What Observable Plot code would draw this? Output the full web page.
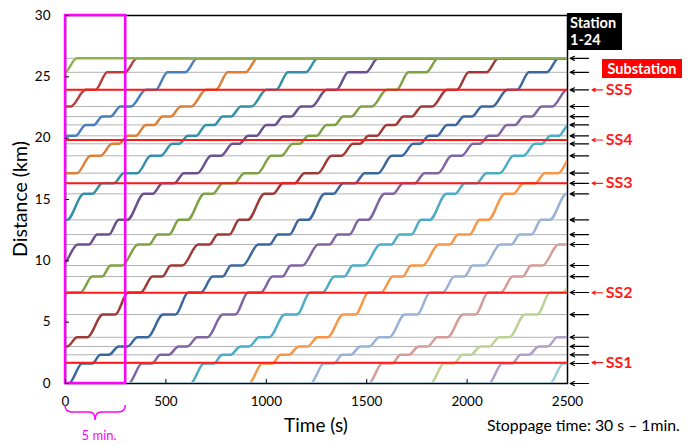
<!DOCTYPE html>
<html><head><meta charset="utf-8">
<script src="https://cdn.jsdelivr.net/npm/d3@7"></script>
<script src="https://cdn.jsdelivr.net/npm/@observablehq/plot@0.6"></script>
<style>
body{margin:0;background:#fff;font-family:Lato,"Open Sans",sans-serif;}
#wrap{position:relative;width:694px;height:445px;overflow:hidden;}
.box{position:absolute;color:#fff;font-weight:bold;font-family:Lato,sans-serif;}
</style></head><body><div id="wrap"></div>
<script>
// Station distances (km), stations 1-24
const stations = [0, 1.63, 2.34, 3.02, 3.77, 5.62, 7.42, 8.72, 9.62, 11.33, 12.14, 13.34, 15.46, 16.32, 17.15, 18.56, 19.54, 20.19, 21.08, 21.76, 22.58, 23.94, 25.37, 26.51];
// Arrival / departure times at each station, relative to departure from station 1 (s)
const arrive = [null, 67, 158, 249, 342, 470, 595, 717, 808, 945, 1042, 1149, 1275, 1367, 1474, 1609, 1716, 1794, 1884, 1967, 2058, 2184, 2292, 2440];
const depart = [0, 117, 200, 293, 392, 532, 659, 767, 866, 1000, 1100, 1192, 1317, 1425, 1541, 1658, 1750, 1834, 1925, 2008, 2110, 2233, 2380, null];
// Departure time of each train from station 1 (s)
const trainStarts = [-2384, -2084, -1784, -1484, -1184, -884, -584, -284, 16, 314, 622, 913, 1220, 1510, 1818, 2108, 2412];
const trainColors = ["#8db14e", "#b9413d", "#4a7ebb", "#dc7f37", "#3290a8", "#6b4f8f", "#7ea143", "#9e3a36", "#3a679f", "#8064a2", "#4bacc6", "#f79646", "#98b2d7", "#d59b97", "#bcd294", "#b0a0c8", "#96cedd"];
// Substations (km)
const substations = [1.7, 7.4, 16.32, 19.85, 23.94];
const substationNames = ["SS1", "SS2", "SS3", "SS4", "SS5"];
const xTicks = [0, 500, 1000, 1500, 2000, 2500];
const yTicks = [0, 5, 10, 15, 20, 25, 30];
const windowSeconds = 300;
const tEnd = 2500;

// Build trajectory table
const order = trainStarts.map((s, i) => i).slice(1).concat([0]);
const rows = [];
for (const i of order) {
  const s = trainStarts[i];
  const pts = [];
  if (s > 0) pts.push([0, 0]);
  pts.push([s + depart[0], stations[0]]);
  for (let j = 1; j < stations.length; j++) {
    pts.push([s + arrive[j], stations[j]]);
    if (depart[j] != null) pts.push([s + depart[j], stations[j]]);
  }
  const last = s + arrive[arrive.length - 1];
  if (last < tEnd) pts.push([tEnd, stations[stations.length - 1]]);
  for (const [t, d] of pts) rows.push({train: i, t, d, color: trainColors[i]});
}

const ssData = substations.map((d, i) => ({d, name: substationNames[i]}));

const plot = Plot.plot({
  width: 694, height: 445,
  marginLeft: 65, marginRight: 127, marginTop: 15, marginBottom: 62,
  x: {domain: [0, tEnd]},
  y: {domain: [0, 30]},
  style: {fontFamily: "Lato, sans-serif", fontSize: "13.5px", color: "#000", background: "white", overflow: "visible"},
  marks: [
    Plot.ruleY(stations, {stroke: "#b2b2b2", strokeWidth: 1}),
    Plot.frame({stroke: "black", strokeWidth: 1.5}),
    Plot.line(rows, {x: "t", y: "d", z: "train", stroke: "color", strokeWidth: 2.5, curve: "monotone-x", clip: true}),
    Plot.ruleY(substations, {stroke: "#ff1a1a", strokeWidth: 2}),
    Plot.rect([{a: 0, b: windowSeconds}], {x1: "a", x2: "b", y1: () => 0, y2: () => 30, fill: "none", stroke: "#ff00ff", strokeWidth: 2.5}),
    Plot.ruleX(xTicks, {y1: 0, y2: 0.33, stroke: "black"}),
    Plot.ruleY(yTicks, {x1: 0, x2: 20, stroke: "black"}),
    Plot.axisX({ticks: xTicks, tickSize: 0, tickPadding: 13, label: null, fontSize: 13.5, tickFormat: d => String(d)}),
    Plot.axisY({ticks: yTicks, tickSize: 0, tickPadding: 15, label: null, fontSize: 13.5, tickFormat: d => String(d)}),
    Plot.arrow(stations, {x1: 2605, x2: 2513, y1: d => d, y2: d => d, stroke: "black", strokeWidth: 1.2, headLength: 6, headAngle: 50}),
    Plot.arrow(ssData, {x1: 2675, x2: 2622, y1: "d", y2: "d", stroke: "#ff1a1a", strokeWidth: 1.2, headLength: 5, headAngle: 50}),
    Plot.text(ssData, {x: 2690, y: "d", text: "name", textAnchor: "start", fill: "#ff1a1a", fontWeight: "bold", fontSize: 16})
  ]
});

const wrap = document.getElementById("wrap");
wrap.appendChild(plot);
const svg = d3.select(plot);
const xs = plot.scale("x"), ys = plot.scale("y");
const x0 = xs.apply(0), x5 = xs.apply(windowSeconds);
const xm = (x0 + x5) / 2;
// brace under the 5-minute window
svg.append("path")
  .attr("d", `M${x0},${405} Q${x0},${412} ${x0 + 7},${412} L${xm - 6},${412} Q${xm},${412} ${xm},${420} Q${xm},${412} ${xm + 6},${412} L${x5 - 7},${412} Q${x5},${412} ${x5},${405}`)
  .attr("fill", "none").attr("stroke", "#ff00ff").attr("stroke-width", 1.5);
svg.append("text").attr("x", xm + 4).attr("y", 437).attr("text-anchor", "middle").attr("dominant-baseline", "middle")
  .attr("fill", "#ff00ff").attr("font-size", 13).text("5 min.");
svg.append("text").attr("transform", `translate(22,${(ys.apply(0) + ys.apply(30)) / 2}) rotate(-90)`)
  .attr("text-anchor", "middle").attr("dominant-baseline", "middle").attr("font-size", 19.5).text("Distance (km)");
svg.append("text").attr("x", (xs.apply(0) + xs.apply(tEnd)) / 2).attr("y", 427)
  .attr("text-anchor", "middle").attr("dominant-baseline", "middle").attr("font-size", 19).text("Time (s)");
svg.append("text").attr("x", 487).attr("y", 427).attr("text-anchor", "start")
  .attr("dominant-baseline", "middle").attr("font-size", 15.8).text("Stoppage time: 30 s \u2013 1min.");

const st = document.createElement("div");
st.className = "box";
st.style.cssText = "left:567px;top:13px;width:49px;height:35px;background:#000;font-size:14.5px;line-height:17px;padding:1px 3px;";
st.innerHTML = "Station<br>1-24";
wrap.appendChild(st);
const sb = document.createElement("div");
sb.className = "box";
sb.style.cssText = "left:602px;top:59px;width:76px;height:19px;background:#ff0000;font-size:14.5px;line-height:19px;padding:0 2px;text-align:center;";
sb.textContent = "Substation";
wrap.appendChild(sb);
</script></body></html>
